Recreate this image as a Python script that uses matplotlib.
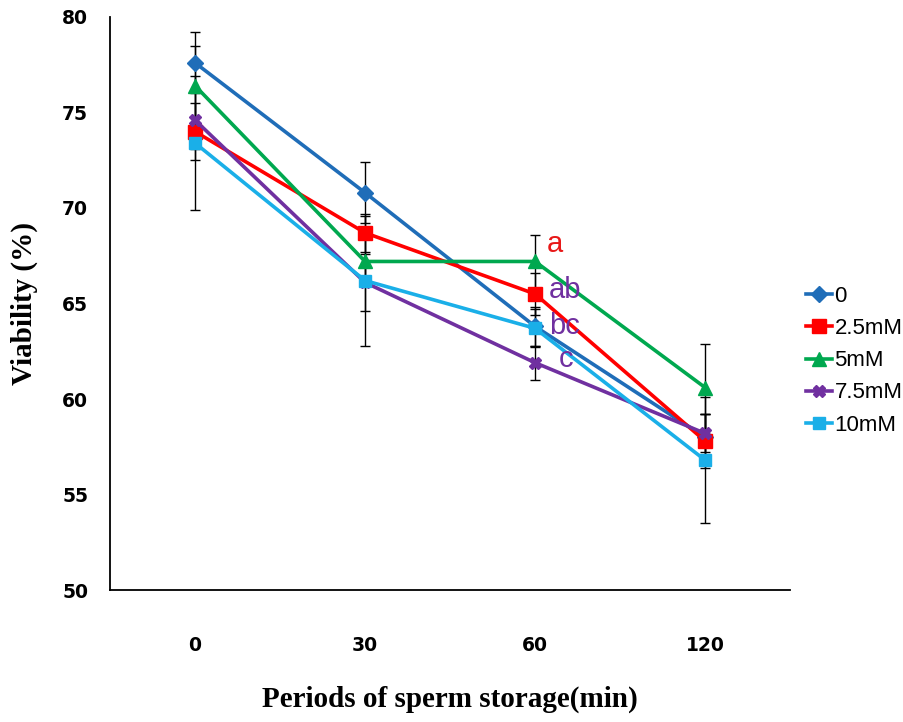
import matplotlib
matplotlib.use("Agg")
import matplotlib.pyplot as plt
import numpy as np

categories = ["0", "30", "60", "120"]
series_names = ["0", "2.5mM", "5mM", "7.5mM", "10mM"]
v_0 = [77.6, 70.8, 63.8, 58.0]
v_25 = [74.0, 68.7, 65.5, 57.8]
v_5 = [76.4, 67.2, 67.2, 60.6]
v_75 = [74.6, 66.1, 61.9, 58.2]
v_10 = [73.4, 66.2, 63.7, 56.8]
e_0 = [1.6, 1.6, 1.0, 1.2]
e_25 = [1.5, 1.0, 1.1, 1.4]
e_5 = [2.1, 1.2, 1.4, 2.3]
e_75 = [1.5, 1.5, 0.9, 1.0]
e_10 = [3.5, 3.4, 1.0, 3.3]
sig_labels = ["a", "ab", "bc", "c"]
sig_values = [68.1, 65.7, 63.8, 62.1]

values = [v_0, v_25, v_5, v_75, v_10]
errors = [e_0, e_25, e_5, e_75, e_10]
colors = ["#1F6DB8", "#FF0000", "#00A84F", "#7030A0", "#1AAFE8"]
markers = ["D", "s", "^", "X", "s"]
msizes = [8, 10, 10, 9, 9]
sig_colors = ["#E81818", "#7030A0", "#7030A0", "#7030A0"]
sig_dx = [0.07, 0.08, 0.08, 0.14]

fig = plt.figure(figsize=(9.04, 7.22), dpi=100)
ax = fig.add_axes([0.1217, 0.1828, 0.7523, 0.7937])
x = np.arange(len(categories))

for vals, errs in zip(values, errors):
    ax.errorbar(x, vals, yerr=errs, fmt="none", ecolor="black", elinewidth=1.0,
                capsize=3.5, capthick=1.0, zorder=1)
for name, vals, c, m, ms in zip(series_names, values, colors, markers, msizes):
    ax.plot(x, vals, color=c, lw=2.6, marker=m, ms=ms, mec=c, mfc=c, label=name, zorder=3)

for lab, val, c, dx in zip(sig_labels, sig_values, sig_colors, sig_dx):
    ax.text(2 + dx, val, lab, color=c, fontsize=21, family="Liberation Sans",
            va="center", ha="left", zorder=4)

ax.set_xlim(-0.5, 3.5)
ax.set_ylim(50, 80)
ax.set_xticks(x)
ax.set_xticklabels(categories)
ax.set_yticks(np.arange(50, 81, 5))
ax.tick_params(length=0, labelsize=13.5)
ax.tick_params(axis="y", pad=34.5)
ax.tick_params(axis="x", pad=33)
for t in ax.get_xticklabels() + ax.get_yticklabels():
    t.set_fontweight("bold")
    t.set_family("DejaVu Sans")
for t in ax.get_yticklabels():
    t.set_ha("left")
for s in ["top", "right"]:
    ax.spines[s].set_visible(False)
ax.spines["left"].set_linewidth(1.3)
ax.spines["bottom"].set_linewidth(1.3)

ax.set_ylabel("Viability (%)", family="Liberation Serif", fontweight="bold", fontsize=21, labelpad=17)
ax.set_xlabel("Periods of sperm storage(min)", family="Liberation Serif", fontweight="bold",
              fontsize=21, labelpad=22)

leg = ax.legend(loc="center left", bbox_to_anchor=(1.0, 0.40), frameon=False,
                prop={"family": "Liberation Sans", "size": 16}, handlelength=1.2,
                handletextpad=0.1, labelspacing=0.5, borderaxespad=0.3)

fig.savefig("out.png", dpi=100)
